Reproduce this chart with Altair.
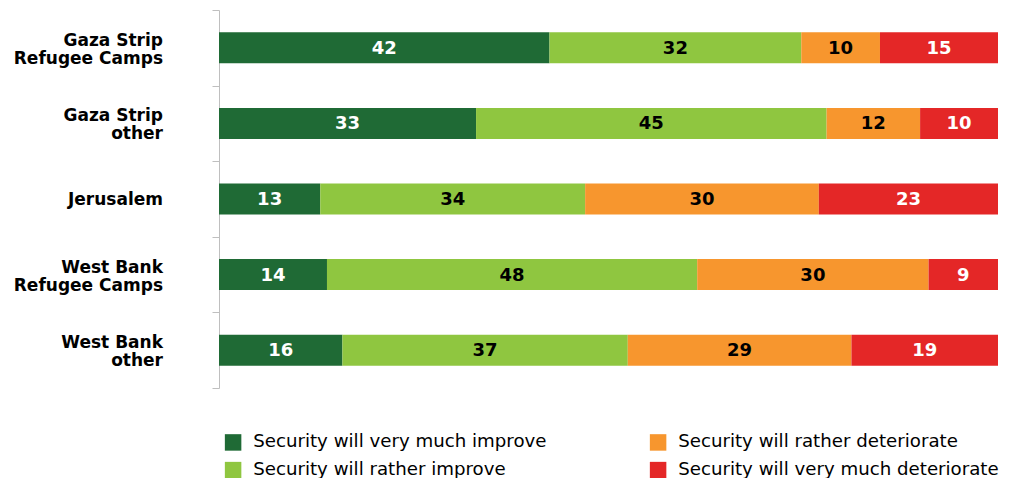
import altair as alt
import pandas as pd

regions = ["Gaza Strip\nRefugee Camps", "Gaza Strip\nother", "Jerusalem",
           "West Bank\nRefugee Camps", "West Bank\nother"]
categories = ["Security will very much improve", "Security will rather improve",
              "Security will rather deteriorate", "Security will very much deteriorate"]
very_much_improve = [42, 33, 13, 14, 16]
rather_improve = [32, 45, 34, 48, 37]
rather_deteriorate = [10, 12, 30, 30, 29]
very_much_deteriorate = [15, 10, 23, 9, 19]
colors = ["#1F6A35", "#8FC640", "#F7962E", "#E42727"]
label_colors = ["white", "black", "black", "white"]

series = [very_much_improve, rather_improve, rather_deteriorate, very_much_deteriorate]
rows = []
for k, (cat, vals) in enumerate(zip(categories, series)):
    for r, v in zip(regions, vals):
        rows.append({"region": r, "cat": cat, "k": k, "value": v, "lc": label_colors[k]})
df = pd.DataFrame(rows)
labels_df = pd.DataFrame({"region": regions, "multi": ["\n" in r for r in regions]})

FONT = "DejaVu Sans"

base = alt.Chart(df).transform_stack(
    stack="value", groupby=["region"], sort=[alt.SortField("k", order="ascending")],
    as_=["x0", "x1"], offset="normalize"
).transform_calculate(xm="(datum.x0 + datum.x1) / 2")

y_scale = alt.Scale(paddingInner=0, paddingOuter=0)

y_enc = alt.Y("region:N", sort=regions, title=None, scale=y_scale,
              axis=alt.Axis(labels=False, tickBand="extent", tickSize=7, tickColor="#BFBFBF",
                            domainColor="#BFBFBF"))

bars = base.mark_bar(size=31).encode(
    y=y_enc,
    x=alt.X("x0:Q", axis=None, scale=alt.Scale(domain=[0, 1], nice=False)),
    x2="x1:Q",
    color=alt.Color("cat:N", scale=alt.Scale(domain=categories, range=colors),
                    legend=alt.Legend(title=None, orient="none", legendX=5, legendY=423,
                                      columns=2, columnPadding=102, rowPadding=9,
                                      symbolType="square", symbolSize=272,
                                      symbolStrokeWidth=0, labelFont=FONT,
                                      labelFontSize=18.2, labelColor="black",
                                      labelOffset=11, labelLimit=400, padding=0)),
)

texts = base.mark_text(font=FONT, fontSize=18, fontWeight="bold", baseline="middle", dy=1).encode(
    y=alt.Y("region:N", sort=regions, scale=y_scale),
    x=alt.X("xm:Q", scale=alt.Scale(domain=[0, 1], nice=False)),
    text=alt.Text("value:Q"),
    color=alt.Color("lc:N", scale=None),
)

label_base = alt.Chart(labels_df)
multi_labels = label_base.transform_filter("datum.multi").mark_text(
    font=FONT, fontSize=17, fontWeight="bold", align="right", baseline="line-bottom",
    lineBreak="\n", lineHeight=18, dx=-56, dy=2, color="black"
).encode(y=alt.Y("region:N", sort=regions, scale=y_scale), x=alt.value(0), text="region:N")

single_labels = label_base.transform_filter("!datum.multi").mark_text(
    font=FONT, fontSize=17, fontWeight="bold", align="right", baseline="middle",
    dx=-56, dy=1, color="black"
).encode(y=alt.Y("region:N", sort=regions, scale=y_scale), x=alt.value(0), text="region:N")

chart = (bars + texts + multi_labels + single_labels).properties(
    width=779, height=378,
    autosize=alt.AutoSizeParams(type="none"),
    padding={"left": 211, "top": 2, "right": 2, "bottom": 90},
    background="white",
).configure_view(stroke=None)

chart.save("out.html", embed_options={"renderer": "svg", "actions": False})
